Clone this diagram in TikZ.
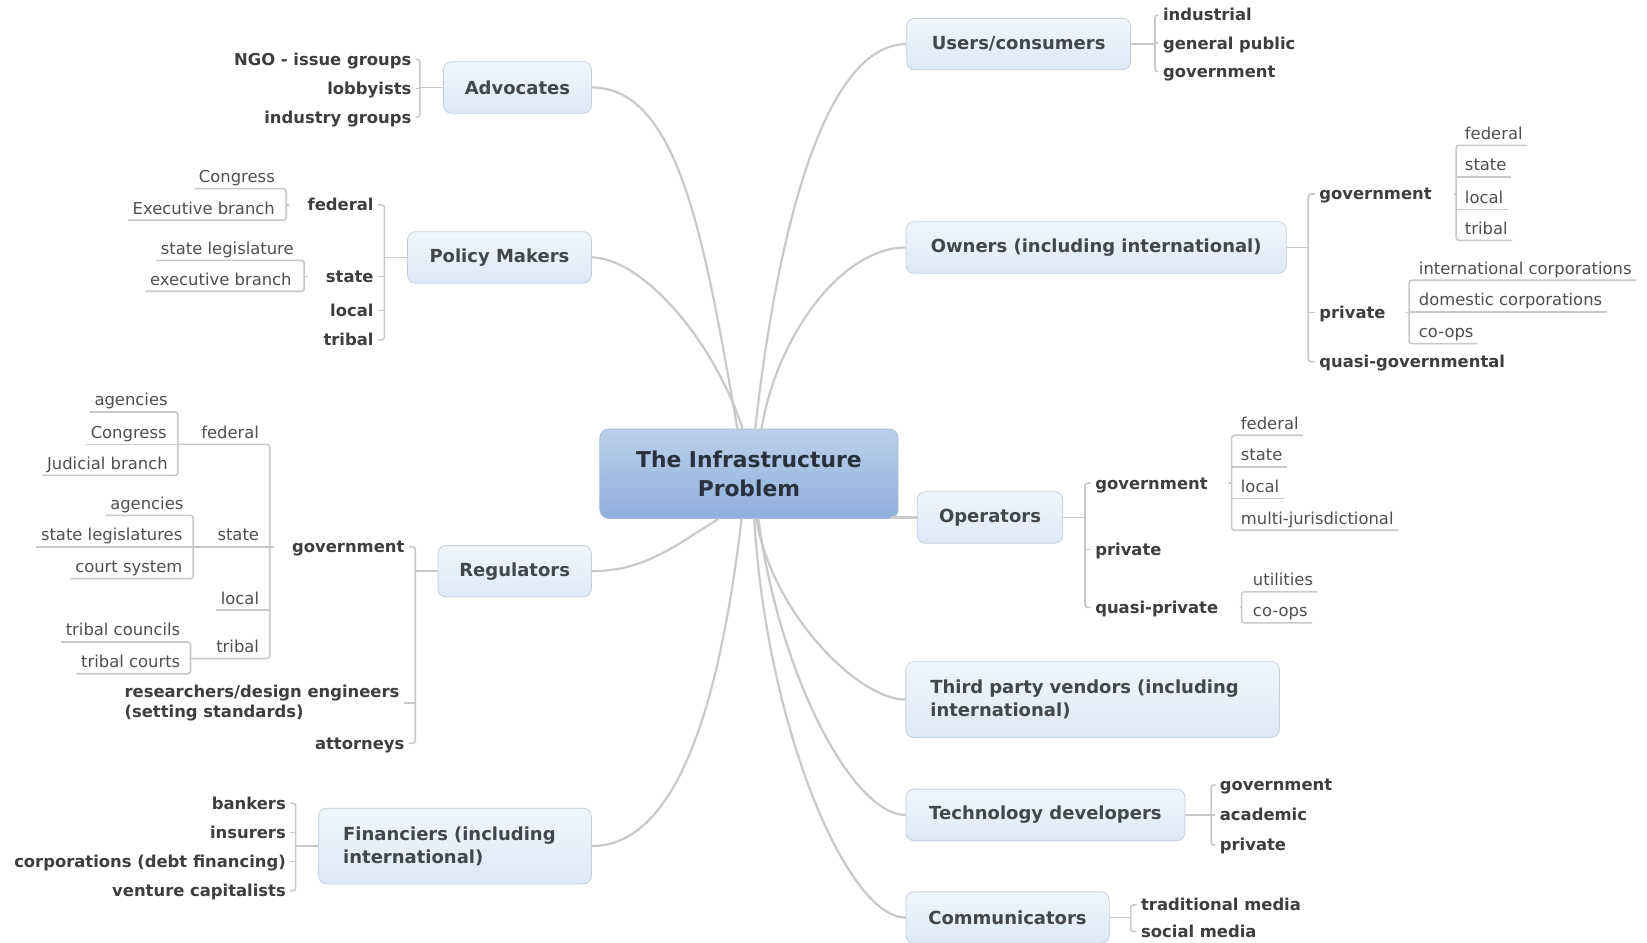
\documentclass[tikz,border=0pt]{standalone}
\usepackage{fontspec}
\setmainfont{DejaVu Sans}
\usetikzlibrary{calc}
\newlength\upx
\setlength\upx{0.5252pt}
\definecolor{linkgray}{HTML}{C9C9C9}
\definecolor{boxline}{HTML}{C4CEDC}
\definecolor{boxtop}{HTML}{F1F6FD}
\definecolor{boxbot}{HTML}{DDE8F8}
\definecolor{hubtop}{HTML}{BCD0EC}
\definecolor{hubbot}{HTML}{8FAFDC}
\definecolor{hubline}{HTML}{A6BCDD}
\definecolor{hubtext}{HTML}{28313C}
\definecolor{topictext}{HTML}{43474D}
\definecolor{leafdark}{HTML}{3E3E3E}
\definecolor{leafgray}{HTML}{4F4F4F}
\tikzset{
branch/.style={draw=linkgray, line width=1.1pt},
link/.style={draw=linkgray, line width=0.8pt},
fork/.style={link, rounded corners=1.4pt},
stub/.style={link, shorten <=#1},
hub/.style={
    draw=hubline, rounded corners=4.5pt, top color=hubtop, bottom color=hubbot,
    text=hubtext, font=\bfseries\fontsize{10.9}{14.2}\selectfont, align=center,
    inner sep=0pt, minimum width=284\upx, minimum height=85\upx
},
topic/.style={
    draw=boxline, rounded corners=4pt, top color=boxtop, bottom color=boxbot,
    text=topictext, font=\bfseries\fontsize{9}{11.7}\selectfont,
    inner sep=0pt, minimum height=49\upx
},
wide/.style={topic, align=left, text width=#1, inner xsep=23.3\upx, minimum height=72\upx},
lbl/.style={inner xsep=4\upx, inner ysep=4.75\upx, text height=6.2pt, text depth=0.4pt},
bleaf/.style={lbl, text=leafdark, font=\bfseries\fontsize{8.2}{10}\selectfont},
uleaf/.style={lbl, text=leafgray, font=\fontsize{8.2}{10}\selectfont},
}
\begin{document}
\begin{tikzpicture}[x=0.5252pt, y=-0.5252pt]
\fill[white] (0,0) rectangle (1568,897);
\useasboundingbox (0,0) rectangle (1568,897);

% main topics
\node[hub] (ctr) at (713,451) {The Infrastructure\\Problem};
\node[topic, minimum width=141\upx] (adv) at (492.6,83.3) {Advocates};
\node[topic, minimum width=175\upx] (pol) at (475.5,245.1) {Policy Makers};
\node[topic, minimum width=146\upx] (reg) at (490,543.8) {Regulators};
\node[wide=213\upx] (fin) at (433.2,805.5) {Financiers (including\\international)};
\node[topic, minimum width=213\upx] (usr) at (969.8,42) {Users/consumers};
\node[topic, minimum width=362\upx] (own) at (1043.6,235.6) {Owners (including international)};
\node[topic, minimum width=138.4\upx] (opr) at (942.5,492.6) {Operators};
\node[wide=309\upx] (tpv) at (1040.2,666) {Third party vendors (including\\international)};
\node[topic, minimum width=265.6\upx] (tec) at (995.3,775.8) {Technology developers};
\node[topic, minimum width=193.5\upx] (com) at (959.2,873.6) {Communicators};

\draw[branch] (adv.east) .. controls +(83,0) and +(-31,-178) .. ([xshift=-11\upx]ctr.north);
\draw[branch] (pol.east) .. controls +(45,0) and +(-30,-90) .. ([xshift=-6\upx]ctr.north);
\draw[branch] (usr.west) .. controls +(-80,0) and +(20,-180) .. ([xshift=6\upx]ctr.north);
\draw[branch] (own.west) .. controls +(-60,0) and +(15,-90) .. ([xshift=12\upx]ctr.north);
\draw[branch] (reg.east) .. controls +(50,0) and +(-40,25) .. ([xshift=-29\upx]ctr.south);
\draw[branch] (fin.east) .. controls +(83,0) and +(-20,170) .. ([xshift=-7\upx]ctr.south);
\draw[branch] (tpv.west) .. controls +(-45,0) and +(15,90) .. ([xshift=7\upx]ctr.south);
\draw[branch] (tec.west) .. controls +(-50,0) and +(20,150) .. ([xshift=9\upx]ctr.south);
\draw[branch] (com.west) .. controls +(-55,0) and +(12,200) .. ([xshift=5\upx]ctr.south);
\draw[branch] (opr.west) -- ($(opr.west -| ctr.east)+(-7,0)$);

% advocates
\node[bleaf, anchor=east] (adv1) at (396,56.5) {NGO - issue groups};
\node[bleaf, anchor=east] (adv2) at (396,84.1) {lobbyists};
\node[bleaf, anchor=east] (adv3) at (396,111.7) {industry groups};
\coordinate (advj) at (399.8,83.3);
\draw[link] (adv.west) -- (advj);
\draw[fork] (adv1.east) -| (advj) |- (adv3.east);
\draw[link] (adv2.east) -- (adv2.east -| advj);

% policy makers
\node[bleaf, anchor=east] (polf) at (360,195.1) {federal};
\node[bleaf, anchor=east] (pols) at (360,263.4) {state};
\node[bleaf, anchor=east] (poll) at (360,295.7) {local};
\node[bleaf, anchor=east] (polt) at (360,323.6) {tribal};
\coordinate (polj) at (366,245.1);
\draw[link] (pol.west) -- (polj);
\draw[fork] (polf.east) -| (polj) |- (polt.east);
\draw[link] (pols.east) -- (pols.east -| polj);
\draw[link] (poll.east) -- (poll.east -| polj);
\node[uleaf, anchor=east] (polf1) at (266,168.2) {Congress};
\node[uleaf, anchor=east] (polf2) at (266,198.3) {Executive branch};
\coordinate (polfj) at (272.5,195.1);
\draw[stub=13\upx] (polf.west) -- (polfj);
\draw[fork] (polf1.south west) -| (polfj) |- (polf2.south west);
\node[uleaf, anchor=east] (pols1) at (284,236.4) {state legislature};
\node[uleaf, anchor=east] (pols2) at (282,265.9) {executive branch};
\coordinate (polsj) at (289.6,263.4);
\draw[stub=13\upx] (pols.west) -- (polsj);
\draw[fork] (pols1.south west) -| (polsj) |- (pols2.south west);

% regulators
\node[bleaf, anchor=east] (regg) at (389.4,520.5) {government};
\node[anchor=east, align=left, inner sep=4\upx, text=leafdark,
    font=\bfseries\fontsize{8.2}{10.3}\selectfont] (regr) at (384.7,669.2)
    {researchers/design engineers\\(setting standards)};
\node[bleaf, anchor=east] (rega) at (389.4,707.7) {attorneys};
\coordinate (regj) at (395.3,543.8);
\draw[link] (reg.west) -- (regj);
\draw[fork] (regg.east) -| (regj) |- (rega.east);
\draw[link] (regr.east) -- (regr.east -| regj);
\node[uleaf, anchor=east] (rgf) at (251,411.6) {federal};
\node[uleaf, anchor=east] (rgs) at (251,509.3) {state};
\node[uleaf, anchor=east] (rgl) at (251,569.6) {local};
\node[uleaf, anchor=east] (rgt) at (251,615.6) {tribal};
\coordinate (govj) at (256.8,520.5);
\coordinate (rgfj) at (169.4,411.6);
\coordinate (rgsj) at (184,509.3);
\coordinate (rgtj) at (181.4,615.6);
\draw[stub=13\upx] (regg.west) -- (govj);
\draw[fork] (rgf.south -| rgfj) -| (govj) |- (rgt.south -| rgtj);
\draw[link] (rgs.south -| rgsj) -- (rgs.south -| govj);
\draw[link] (rgl.south west) -- (rgl.south -| govj);
\node[uleaf, anchor=east] (rgf1) at (164,380.8) {agencies};
\node[uleaf, anchor=east] (rgf2) at (163,411.6) {Congress};
\node[uleaf, anchor=east] (rgf3) at (164,441.1) {Judicial branch};
\draw[fork] (rgf1.south west) -| (rgfj) |- (rgf3.south west);
\draw[link] (rgf2.south west) -- (rgf2.south -| rgfj);
\node[uleaf, anchor=east] (rgs1) at (179,479.2) {agencies};
\node[uleaf, anchor=east] (rgs2) at (178,509.3) {state legislatures};
\node[uleaf, anchor=east] (rgs3) at (178,539.5) {court system};
\draw[fork] (rgs1.south west) -| (rgsj) |- (rgs3.south west);
\draw[link] (rgs2.south west) -- (rgs2.south -| rgsj);
\node[uleaf, anchor=east] (rgt1) at (176,599.8) {tribal councils};
\node[uleaf, anchor=east] (rgt2) at (176,630) {tribal courts};
\draw[fork] (rgt1.south west) -| (rgtj) |- (rgt2.south west);

% financiers
\node[bleaf, anchor=east] (fin1) at (276.5,764.8) {bankers};
\node[bleaf, anchor=east] (fin2) at (276.5,792.4) {insurers};
\node[bleaf, anchor=east] (fin3) at (276.5,820) {corporations (debt financing)};
\node[bleaf, anchor=east] (fin4) at (276.5,848) {venture capitalists};
\coordinate (finj) at (281.5,805.5);
\draw[link] (fin.west) -- (finj);
\draw[fork] (fin1.east) -| (finj) |- (fin4.east);
\draw[link] (fin2.east) -- (fin2.east -| finj);
\draw[link] (fin3.east) -- (fin3.east -| finj);

% users
\node[bleaf, anchor=west] (usr1) at (1102.9,14.3) {industrial};
\node[bleaf, anchor=west] (usr2) at (1102.9,41.2) {general public};
\node[bleaf, anchor=west] (usr3) at (1102.9,68.2) {government};
\coordinate (usrj) at (1099.6,42);
\draw[link] (usr.east) -- (usrj);
\draw[fork] (usr1.west) -| (usrj) |- (usr3.west);
\draw[link] (usr2.west) -- (usr2.west -| usrj);

% owners
\node[bleaf, anchor=west] (owng) at (1251.7,184.7) {government};
\node[bleaf, anchor=west] (ownp) at (1251.7,297.6) {private};
\node[bleaf, anchor=west] (ownq) at (1251.7,344.3) {quasi-governmental};
\coordinate (ownj) at (1245.5,235.6);
\draw[link] (own.east) -- (ownj);
\draw[fork] (owng.west) -| (ownj) |- (ownq.west);
\draw[link] (ownp.west) -- (ownp.west -| ownj);
\node[uleaf, anchor=west] (owng1) at (1390.3,127) {federal};
\node[uleaf, anchor=west] (owng2) at (1390.3,157) {state};
\node[uleaf, anchor=west] (owng3) at (1390.3,187.9) {local};
\node[uleaf, anchor=west] (owng4) at (1390.3,217.4) {tribal};
\coordinate (owngj) at (1386.3,184.7);
\draw[stub=17\upx] (owng.east) -- (owngj);
\draw[fork] (owng1.south east) -| (owngj) |- (owng4.south east);
\draw[link] (owng2.south east) -- (owng2.south -| owngj);
\draw[link] (owng3.south east) -- (owng3.south -| owngj);
\node[uleaf, anchor=west] (ownp1) at (1346.5,255.4) {international corporations};
\node[uleaf, anchor=west] (ownp2) at (1346.5,285.6) {domestic corporations};
\node[uleaf, anchor=west] (ownp3) at (1346.5,315.7) {co-ops};
\coordinate (ownpj) at (1341.5,297.6);
\draw[stub=15\upx] (ownp.east) -- (ownpj);
\draw[fork] (ownp1.south east) -| (ownpj) |- (ownp3.south east);
\draw[link] (ownp2.south east) -- (ownp2.south -| ownpj);

% operators
\node[bleaf, anchor=west] (oprg) at (1038.4,460.1) {government};
\node[bleaf, anchor=west] (oprp) at (1038.4,523) {private};
\node[bleaf, anchor=west] (oprq) at (1038.4,578.2) {quasi-private};
\coordinate (oprj) at (1032.9,492.6);
\draw[link] (opr.east) -- (oprj);
\draw[fork] (oprg.west) -| (oprj) |- (oprq.west);
\draw[link] (oprp.west) -- (oprp.west -| oprj);
\node[uleaf, anchor=west] (oprg1) at (1177,403) {federal};
\node[uleaf, anchor=west] (oprg2) at (1177,433.2) {state};
\node[uleaf, anchor=west] (oprg3) at (1177,463.3) {local};
\node[uleaf, anchor=west] (oprg4) at (1177,493.4) {multi-jurisdictional};
\coordinate (oprgj) at (1172.5,460.1);
\draw[stub=16\upx] (oprg.east) -- (oprgj);
\draw[fork] (oprg1.south east) -| (oprgj) |- (oprg4.south east);
\draw[link] (oprg2.south east) -- (oprg2.south -| oprgj);
\draw[link] (oprg3.south east) -- (oprg3.south -| oprgj);
\node[uleaf, anchor=west] (oprq1) at (1188.5,552.1) {utilities};
\node[uleaf, anchor=west] (oprq2) at (1188.5,581.6) {co-ops};
\coordinate (oprqj) at (1182,578.2);
\draw[stub=16\upx] (oprq.east) -- (oprqj);
\draw[fork] (oprq1.south east) -| (oprqj) |- (oprq2.south east);

% technology developers
\node[bleaf, anchor=west] (tec1) at (1157,747.3) {government};
\node[bleaf, anchor=west] (tec2) at (1157,775.9) {academic};
\node[bleaf, anchor=west] (tec3) at (1157,804.4) {private};
\coordinate (tecj) at (1153,775.8);
\draw[link] (tec.east) -- (tecj);
\draw[fork] (tec1.west) -| (tecj) |- (tec3.west);
\draw[link] (tec2.west) -- (tec2.west -| tecj);

% communicators
\node[bleaf, anchor=west] (com1) at (1082,861.5) {traditional media};
\node[bleaf, anchor=west] (com2) at (1082,886.9) {social media};
\coordinate (comj) at (1076.4,873.6);
\draw[link] (com.east) -- (comj);
\draw[fork] (com1.west) -| (comj) |- (com2.west);
\end{tikzpicture}
\end{document}
